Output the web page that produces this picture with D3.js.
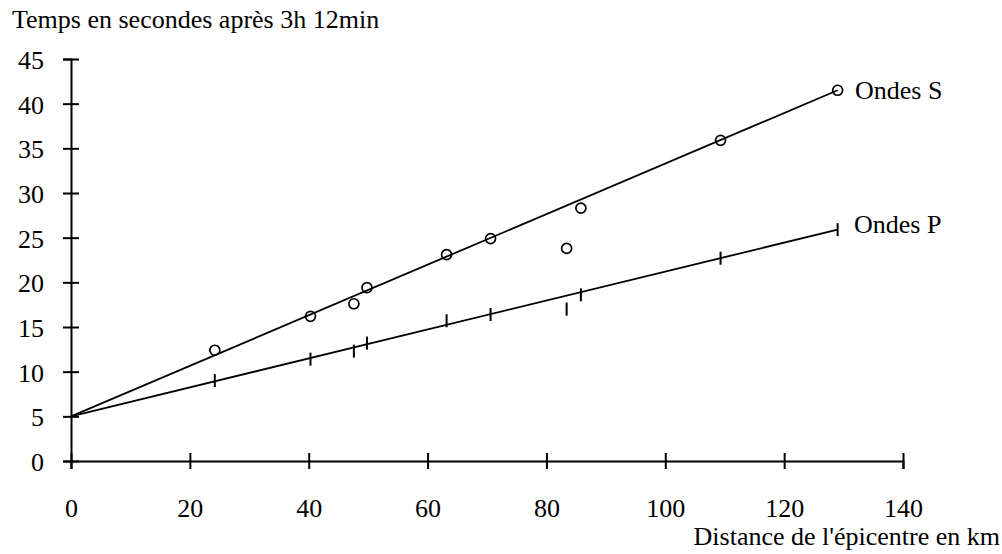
<!DOCTYPE html>
<meta charset="utf-8">
<style>
  body { margin: 0; background: #fff; }
</style>
<svg width="1002" height="554"></svg>
<script src="https://d3js.org/d3.v7.min.js"></script>
<script>

// distances (km) and arrival times (s after 3h 12min)
var distances = [24.2, 40.3, 47.6, 49.8, 63.2, 70.6, 83.4, 85.8, 109.3, 129],
    ondesS = [12.4, 16.2, 17.6, 19.4, 23.1, 24.9, 23.8, 28.3, 35.9, 41.5],
    ondesP = [9.0, 11.4, 12.3, 13.2, 15.7, 16.4, 17.0, 18.6, 22.7, 25.9];

// fitted lines, from origin time 5 s
var droiteS = [[0, 5], [129, 41.5]],
    droiteP = [[0, 5], [129, 25.9]];

var xTicks = [0, 20, 40, 60, 80, 100, 120, 140],
    yTicks = [0, 5, 10, 15, 20, 25, 30, 35, 40, 45];

var serif = "'Liberation Serif', 'Times New Roman', Times, 'DejaVu Serif', serif",
    fontSize = 26;

var svg = d3.select("svg")
    .attr("font-family", serif)
    .style("font-family", serif);

var x = d3.scaleLinear().domain([0, 140]).range([71, 903]),
    y = d3.scaleLinear().domain([0, 45]).range([461, 59]);

var xAxis = svg.append("g")
    .attr("transform", "translate(0," + y(0) + ")")
    .call(d3.axisBottom(x).tickValues(xTicks).tickSizeOuter(0).tickSize(8).tickPadding(30));

var yAxis = svg.append("g")
    .attr("transform", "translate(" + x(0) + ",0)")
    .call(d3.axisLeft(y).tickValues(yTicks).tickSizeOuter(0).tickSize(8).tickPadding(19));

xAxis.selectAll(".tick line").attr("y1", -8).attr("y2", 8);
yAxis.selectAll(".tick line").attr("x1", -8).attr("x2", 8);

svg.selectAll(".domain, .tick line")
    .attr("stroke", "#000")
    .attr("stroke-width", 2);

svg.selectAll("g").attr("font-family", serif).attr("font-size", fontSize);

svg.selectAll(".tick text")
    .attr("fill", "#000")
    .style("font-family", serif)
    .style("font-size", fontSize + "px");

yAxis.selectAll(".tick text").attr("dy", "0.36em");

var line = d3.line()
    .x(function(d) { return x(d[0]); })
    .y(function(d) { return y(d[1]); });

svg.append("path")
    .datum(droiteS)
    .attr("d", line)
    .attr("fill", "none")
    .attr("stroke", "#000")
    .attr("stroke-width", 1.8);

svg.append("path")
    .datum(droiteP)
    .attr("d", line)
    .attr("fill", "none")
    .attr("stroke", "#000")
    .attr("stroke-width", 1.8);

// S waves: open circles
svg.selectAll(".s")
    .data(distances)
  .enter().append("circle")
    .attr("class", "s")
    .attr("cx", function(d) { return x(d); })
    .attr("cy", function(d, i) { return y(ondesS[i]); })
    .attr("r", 5)
    .attr("fill", "none")
    .attr("stroke", "#000")
    .attr("stroke-width", 1.7);

// P waves: vertical marks
svg.selectAll(".p")
    .data(distances)
  .enter().append("line")
    .attr("class", "p")
    .attr("x1", function(d) { return x(d); })
    .attr("x2", function(d) { return x(d); })
    .attr("y1", function(d, i) { return y(ondesP[i]) - 6.5; })
    .attr("y2", function(d, i) { return y(ondesP[i]) + 6.5; })
    .attr("stroke", "#000")
    .attr("stroke-width", 2);

function label(px, py, anchor, txt) {
  svg.append("text")
      .attr("x", px)
      .attr("y", py)
      .attr("text-anchor", anchor)
      .style("font-family", serif)
      .style("font-size", fontSize + "px")
      .text(txt);
}

label(855, 99, "start", "Ondes S");
label(854, 233, "start", "Ondes P");
label(12, 28, "start", "Temps en secondes après 3h 12min");
label(1000, 545, "end", "Distance de l'épicentre en km");

</script>
